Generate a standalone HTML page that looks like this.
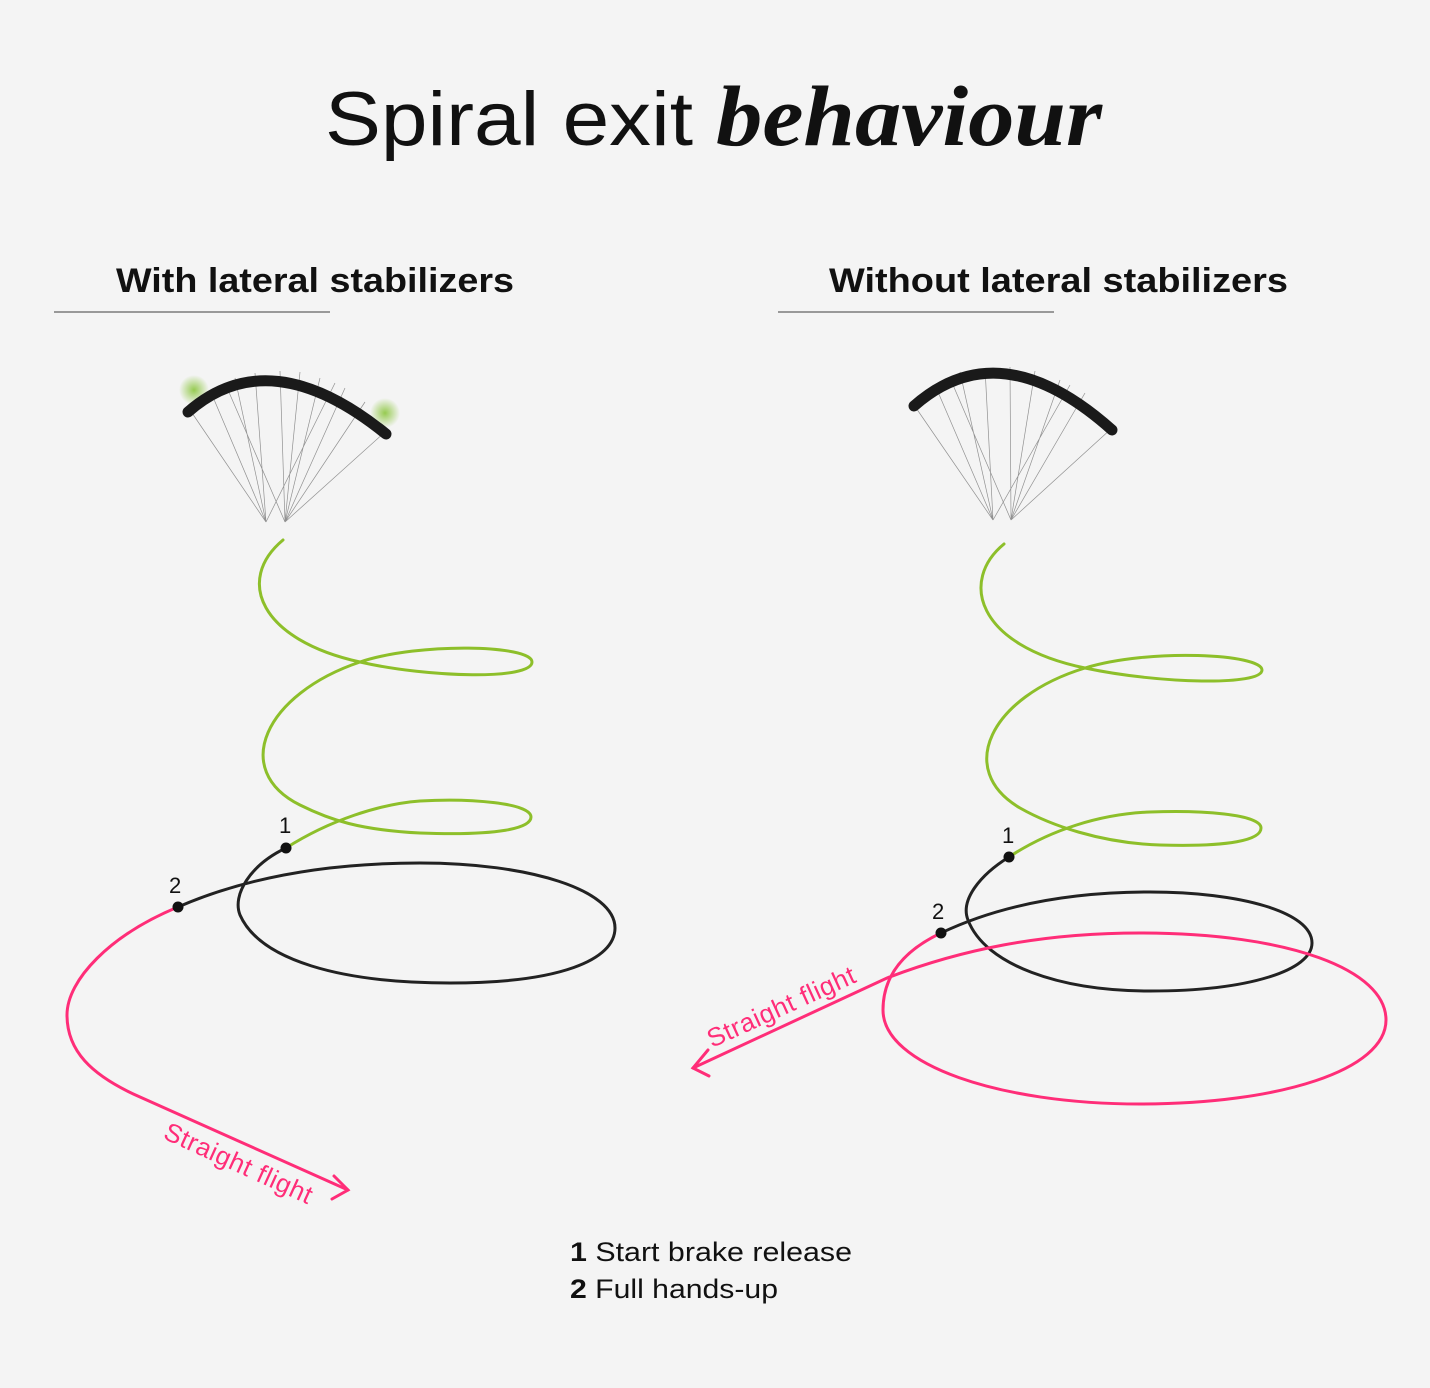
<!DOCTYPE html>
<html><head><meta charset="utf-8"><style>
html,body{margin:0;padding:0;background:#f4f4f4}
svg{display:block}
</style></head><body>
<svg width="1430" height="1388" viewBox="0 0 1430 1388" xmlns="http://www.w3.org/2000/svg">
<defs>
<radialGradient id="gl"><stop offset="0" stop-color="#8cc63f" stop-opacity="0.9"/><stop offset="1" stop-color="#8cc63f" stop-opacity="0"/></radialGradient>
</defs>
<rect width="1430" height="1388" fill="#f4f4f4"/>
<text x="325" y="145" font-family="Liberation Sans, sans-serif" font-size="76" fill="#111" textLength="368" lengthAdjust="spacingAndGlyphs">Spiral exit</text>
<text x="716" y="145" font-family="Liberation Serif, serif" font-style="italic" font-weight="bold" font-size="86" fill="#111" textLength="386" lengthAdjust="spacingAndGlyphs">behaviour</text>
<text x="116" y="292" font-family="Liberation Sans, sans-serif" font-weight="bold" font-size="34" fill="#111" textLength="398" lengthAdjust="spacingAndGlyphs">With lateral stabilizers</text>
<text x="829" y="292" font-family="Liberation Sans, sans-serif" font-weight="bold" font-size="34" fill="#111" textLength="459" lengthAdjust="spacingAndGlyphs">Without lateral stabilizers</text>
<line x1="54" y1="312" x2="330" y2="312" stroke="#999" stroke-width="2"/>
<line x1="778" y1="312" x2="1054" y2="312" stroke="#999" stroke-width="2"/>

<!-- left canopy -->
<circle cx="194" cy="390" r="15" fill="url(#gl)"/>
<circle cx="385" cy="413" r="15" fill="url(#gl)"/>
<g stroke="#666" stroke-width="0.7" fill="none" opacity="0.7">
<path d="M190 410 L266 522 M210 390 L266 522 M235 378 L266 522 M255 373 L266 522 M280 371 L285 522 M300 372 L285 522 M320 378 L285 522 M345 388 L285 522 M365 402 L285 522 M385 432 L285 522 M225 383 L285 522 M335 383 L266 522"/>
</g>
<path d="M188 412 Q270 340 386 434" stroke="#1a1a1a" stroke-width="11" fill="none" stroke-linecap="round"/>
<!-- right canopy -->
<g stroke="#666" stroke-width="0.7" fill="none" opacity="0.7">
<path d="M914 405 L993 520 M935 385 L993 520 M960 372 L993 520 M985 368 L993 520 M1010 367 L1011 520 M1035 371 L1011 520 M1060 380 L1011 520 M1085 393 L1011 520 M1112 428 L1011 520 M950 378 L1011 520 M1070 385 L993 520"/>
</g>
<path d="M914 406 Q1000 330 1112 430" stroke="#1a1a1a" stroke-width="11" fill="none" stroke-linecap="round"/>

<g fill="none" stroke-width="3" stroke-linecap="round">
<path stroke="#8dbf2a" d="M283 540 C235 580 260 640 360 662 C430 678 532 680 532 662 C532 645 420 642 360 662 C265 694 230 770 300 805 C330 820 360 830 420 833 C500 836 531 828 531 817 C531 803 470 798 420 801 C380 804 330 820 286 848"/>
<path stroke="#222" d="M286 848 C250 865 232 895 240 915 C260 960 340 983 450 983 C560 983 615 960 615 928 C615 890 530 863 420 863 C320 863 240 880 178 907"/>
<path stroke="#ff2d78" d="M178 907 C110 935 67 980 67 1015 C67 1050 90 1075 140 1097 L348 1190"/>
<path stroke="#ff2d78" d="M334 1176 L348 1190 L332 1199"/>
<path stroke="#8dbf2a" d="M1004 544 C960 580 975 645 1085 668 C1160 684 1262 686 1262 670 C1262 654 1150 648 1085 668 C990 697 955 770 1020 808 C1050 825 1100 843 1160 845 C1230 847 1261 840 1261 828 C1261 814 1200 810 1150 812 C1100 814 1050 830 1009 857"/>
<path stroke="#222" d="M1009 857 C980 875 960 900 968 920 C985 965 1060 991 1150 991 C1250 991 1312 970 1312 943 C1312 912 1240 892 1150 892 C1070 892 1000 905 941 933"/>
<path stroke="#ff2d78" d="M941 933 C905 950 883 975 883 1010 C883 1065 1000 1104 1140 1104 C1280 1104 1386 1070 1386 1020 C1386 970 1290 933 1140 933 C1040 933 960 950 887 978 L693 1068"/>
<path stroke="#ff2d78" d="M708 1050 L693 1068 L709 1076"/>
</g>
<circle cx="286" cy="848" r="5.5" fill="#111"/>
<circle cx="178" cy="907" r="5.5" fill="#111"/>
<circle cx="1009" cy="857" r="5.5" fill="#111"/>
<circle cx="941" cy="933" r="5.5" fill="#111"/>
<g font-family="Liberation Sans, sans-serif" font-size="22" fill="#111">
<text x="279" y="833">1</text><text x="169" y="893">2</text>
<text x="1002" y="843">1</text><text x="932" y="919">2</text>
</g>
<g font-family="Liberation Sans, sans-serif" font-size="26" fill="#ff2d78">
<text transform="translate(162,1138) rotate(24.5)" textLength="160">Straight flight</text>
<text transform="translate(712,1048) rotate(-24.5)" textLength="160">Straight flight</text>
</g>
<g font-family="Liberation Sans, sans-serif" font-size="27" fill="#111">
<text x="570" y="1261" textLength="282" lengthAdjust="spacingAndGlyphs"><tspan font-weight="bold">1</tspan>  Start brake release</text>
<text x="570" y="1298" textLength="208" lengthAdjust="spacingAndGlyphs"><tspan font-weight="bold">2</tspan> Full hands-up</text>
</g>
</svg>
</body></html>
